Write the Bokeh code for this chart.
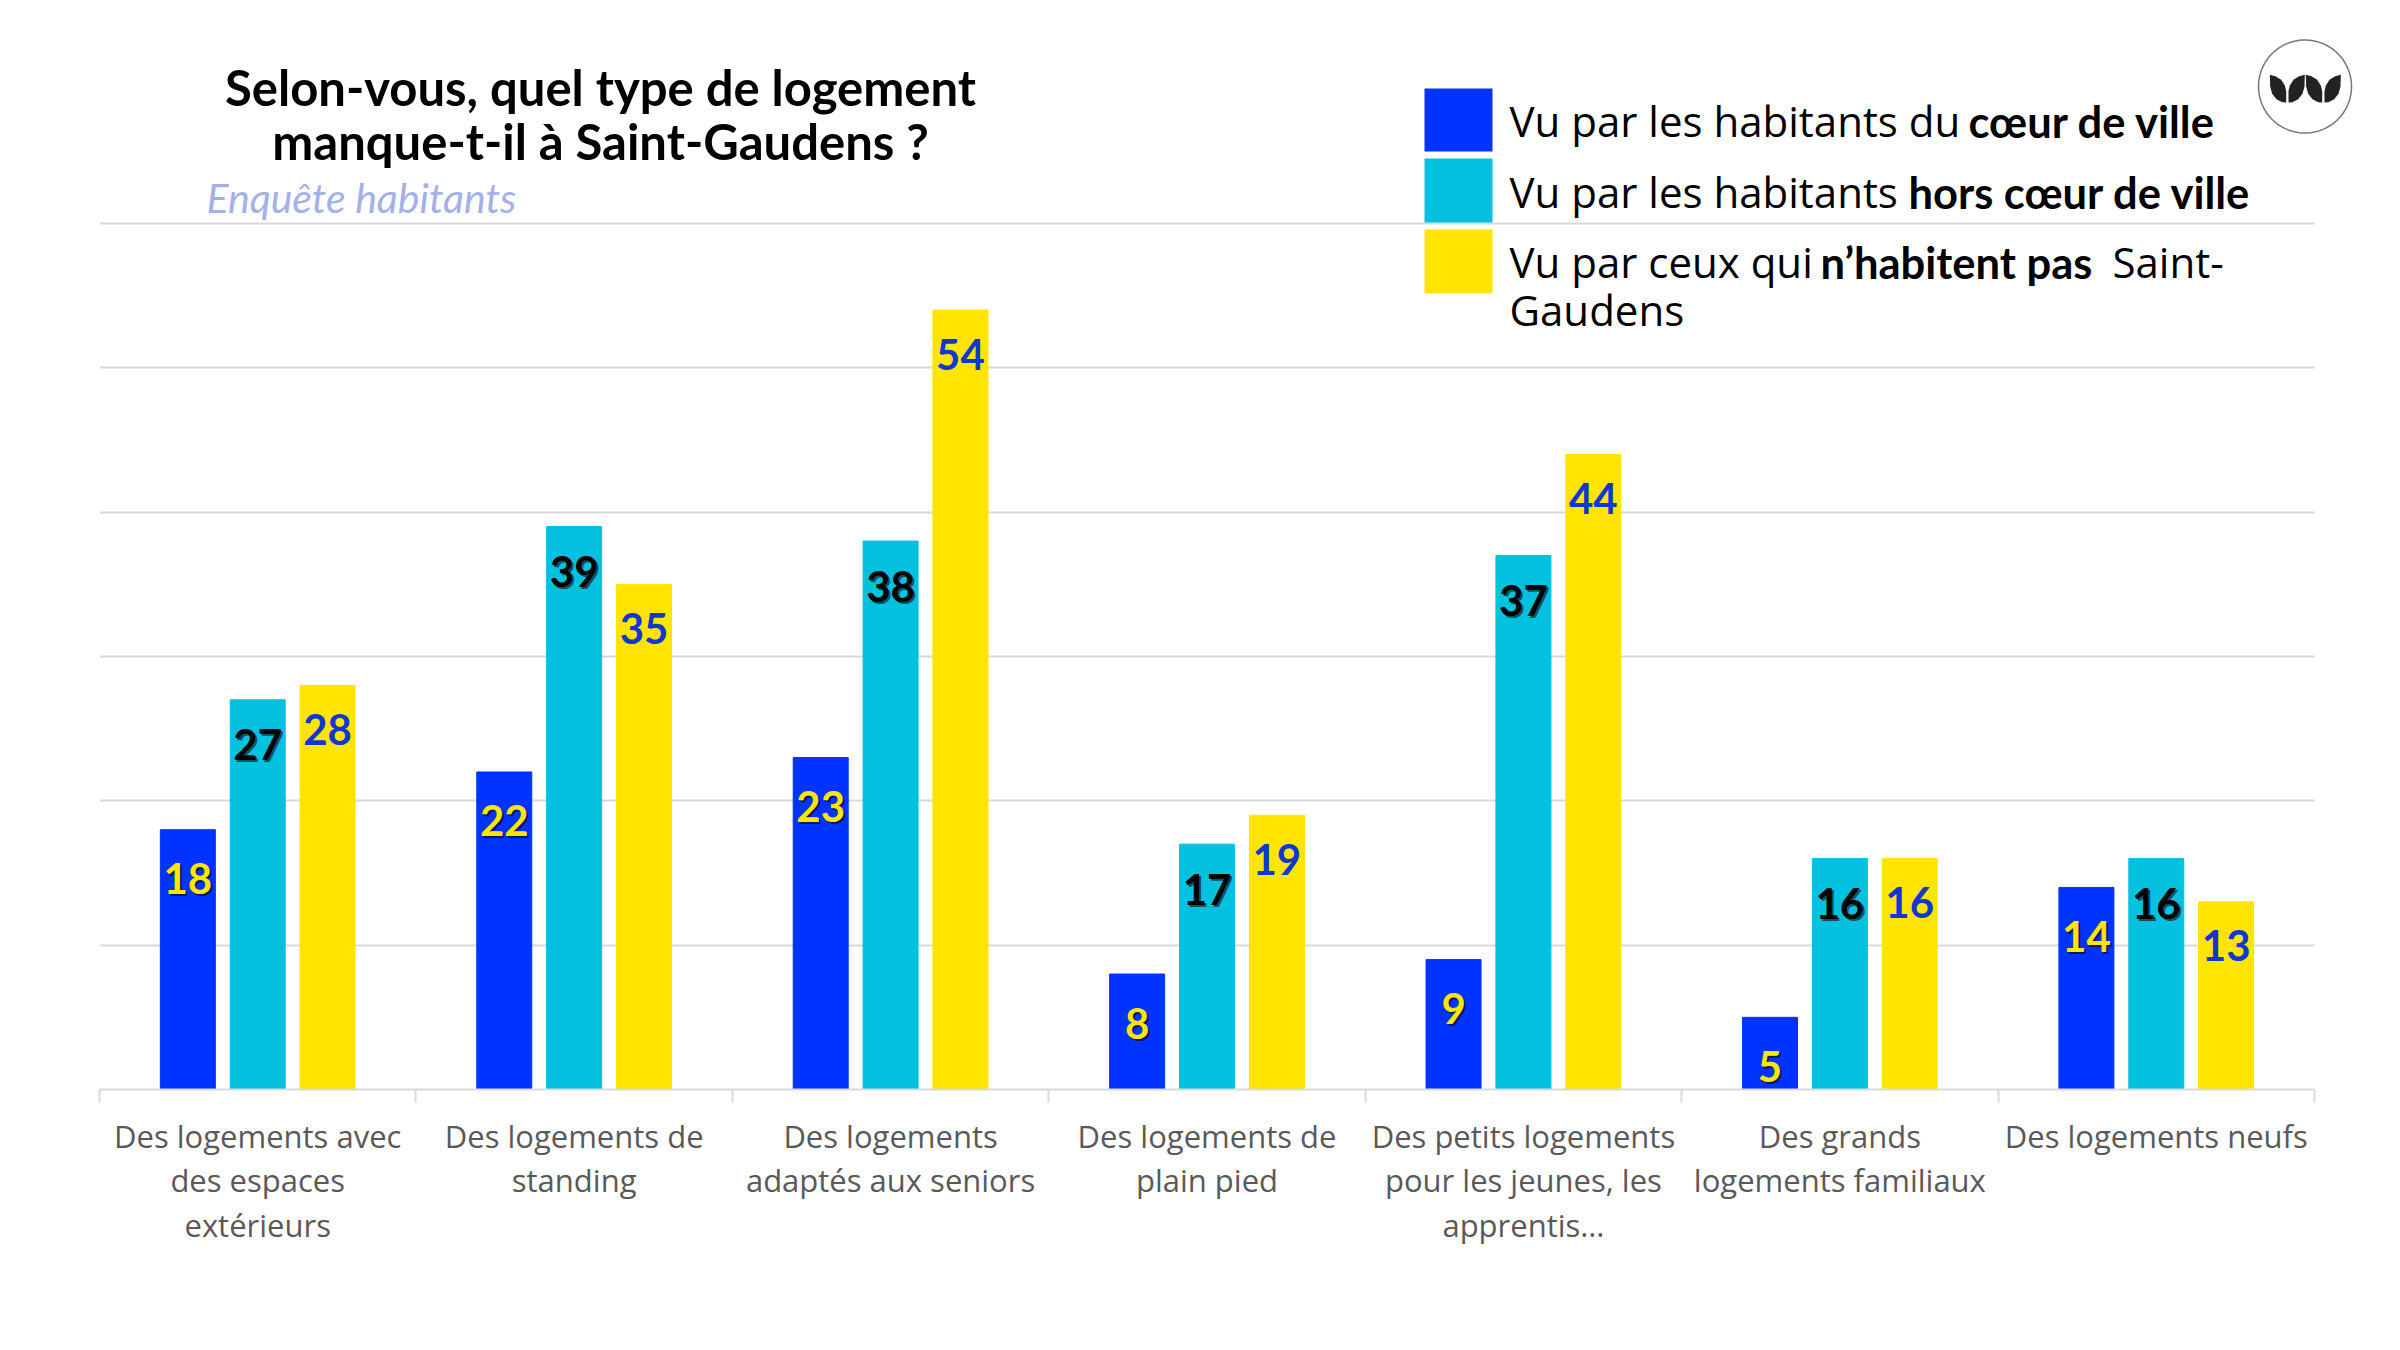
import numpy as np
from bokeh.plotting import figure
from bokeh.embed import file_html
from bokeh.resources import INLINE
from bokeh.core.properties import value
from bokeh.models import Range1d, FixedTicker, ColumnDataSource, Label

categories = ["Des logements avec\ndes espaces\nextérieurs", "Des logements de\nstanding",
              "Des logements\nadaptés aux seniors", "Des logements de\nplain pied",
              "Des petits logements\npour les jeunes, les\napprentis…", "Des grands\nlogements familiaux",
              "Des logements neufs"]
coeur = [18, 22, 23, 8, 9, 5, 14]
hors = [27, 39, 38, 17, 37, 16, 16]
non = [28, 35, 54, 19, 44, 16, 13]
FONT = "Lato"
AXFONT = "Open Sans"
BLUE, CYAN, YELLOW = "#0033ff", "#04c1e0", "#ffe500"
series = [(coeur, BLUE, "#ffe600", "#001a66", -0.2208, 49), (hors, CYAN, "#000000", "#0a5563", 0.0, 45), (non, YELLOW, "#1038d0", None, 0.2208, 44)]

W, H = 2384, 1334
LEFT, RIGHT, BASE, TOP60 = 99, 2314, 1089, 223
ux = (RIGHT - LEFT) / 7
uy = (BASE - TOP60) / 60
def xd(px): return (px - LEFT) / ux
def yd(py): return (BASE - py) / uy

p = figure(width=W, height=H, output_backend="svg", toolbar_location=None,
           x_range=Range1d(0, xd(W)), y_range=Range1d(0, yd(0)), min_border_left=LEFT, min_border_right=0,
           min_border_top=0, min_border_bottom=H - BASE, frame_width=W - LEFT, frame_height=BASE,
           background_fill_color="white", border_fill_color="white")
p.outline_line_color = None
p.yaxis.visible = False
p.ygrid.ticker = FixedTicker(ticks=[0, 10, 20, 30, 40, 50, 60])
p.ygrid.grid_line_color = "#d9d9d9"
p.ygrid.grid_line_width = 2
p.ygrid.cross_bounds = (0, 7)
p.xgrid.visible = False
ax = p.xaxis[0]
ax.bounds = (0, 7)
ax.ticker = FixedTicker(ticks=[i + 0.5 for i in range(7)], minor_ticks=list(range(8)))
ax.major_label_overrides = {i + 0.5: c for i, c in enumerate(categories)}
ax.major_tick_line_color = None
ax.major_tick_out = 0
ax.minor_tick_out = 13
ax.minor_tick_in = 0
ax.minor_tick_line_color = "#d9d9d9"
ax.minor_tick_line_width = 2
ax.axis_line_color = "#d9d9d9"
ax.axis_line_width = 2
ax.major_label_text_font = AXFONT
ax.major_label_text_font_size = "31px"
ax.major_label_text_color = "#595959"
ax.major_label_text_line_height = 1.06
ax.major_label_standoff = 12

for vals, col, tcol, scol, off, dy in series:
    xs = [i + 0.5 + off for i in range(7)]
    p.vbar(x=xs, top=vals, width=55 / ux, color=col)
    src = ColumnDataSource(dict(x=xs, y=vals, t=[str(v) for v in vals]))
    kw = dict(source=src, text_font=value(FONT), text_font_size="42px", text_font_style="bold",
              text_align="center", text_baseline="middle")
    if scol:
        p.text("x", "y", "t", text_color=scol, x_offset=2, y_offset=dy + 2, **kw)
    p.text("x", "y", "t", text_color=tcol, y_offset=dy, **kw)

def lab(text, x, y, size, color="#000000", style="normal", align="left", baseline="alphabetic", font=FONT):
    p.add_layout(Label(x=xd(x), y=yd(y), text=text, text_font=font,
                       text_font_size=f"{size}px", text_color=color, text_font_style=style,
                       text_align=align, text_baseline=baseline))

lab("Selon-vous, quel type de logement", 600, 86, 49, style="bold", align="center", baseline="middle")
lab("manque-t-il à Saint-Gaudens ?", 600, 140, 49, style="bold", align="center", baseline="middle")
lab("Enquête habitants", 206, 197, 41, color="#a3b0ea", style="italic", baseline="middle")

for (y0, y1), col in zip([(88, 151), (158, 222), (229, 293)], [BLUE, CYAN, YELLOW]):
    p.quad(left=xd(1424), right=xd(1492), top=yd(y0), bottom=yd(y1), color=col, line_color=None)
NS, BS = 42, 43.5
lab("Vu par les habitants du", 1509, 120, NS, font=AXFONT)
lab("cœur de ville", 1968, 120, BS, style="bold")
lab("Vu par les habitants", 1509, 191, NS, font=AXFONT)
lab("hors cœur de ville", 1908, 191, BS, style="bold")
lab("Vu par ceux qui", 1509, 261, NS, font=AXFONT)
lab("n’habitent pas", 1820, 261, BS, style="bold")
lab("Saint-", 2112, 261, NS, font=AXFONT)
lab("Gaudens", 1509, 309, NS, font=AXFONT)

# logo: circle with four leaves
t = np.linspace(0, 2 * np.pi, 120)
p.line(xd(2304.5 + 46.5 * np.cos(t)), yd(86 + 46.5 * np.sin(t)), line_color="#777777", line_width=1.5)
leaf = np.array([(58,163),(75,167),(92,178),(103,195),(107,212),(107,246),(95,245),(78,236),(65,220),(59,198)], float)
for dx, mirror in [(0, False), (0, True), (108, False), (108, True)]:
    lx = (221 - leaf[:, 0] if mirror else leaf[:, 0]) + dx
    p.patch(xd(2250 + lx / 3), yd(20 + leaf[:, 1] / 3), color="#222222", line_color=None)

open("out.html", "w").write(file_html(p, INLINE))
